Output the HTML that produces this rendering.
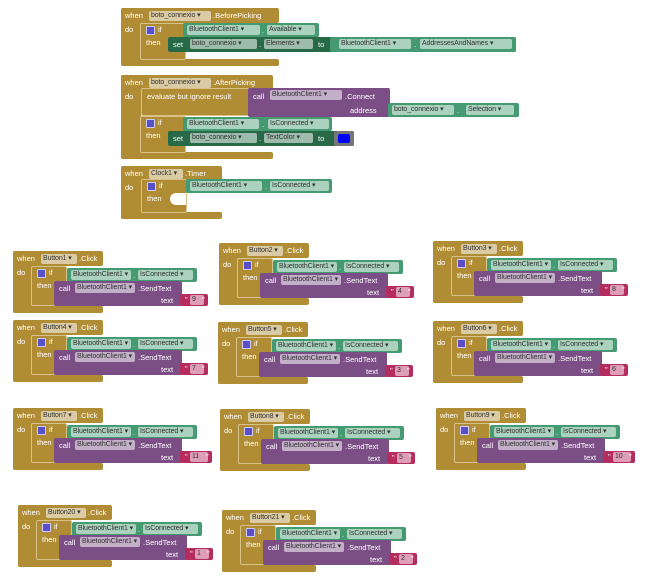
<!DOCTYPE html><html><head><meta charset="utf-8"><style>
body{margin:0;width:657px;height:577px;background:#fff;position:relative;overflow:hidden;font-family:"Liberation Sans",sans-serif;font-size:7.5px}
div{position:absolute;box-sizing:border-box}
.t{color:#fff;white-space:nowrap;line-height:10px}
.c{background:rgba(255,255,255,.55);color:#333;border-radius:2px;height:10px;line-height:10px;padding-left:2px;white-space:nowrap;overflow:hidden;font-size:7px;letter-spacing:-0.1px}
</style></head><body><div id="r"></div>
<script>
var G='#b08d35',GR='#459a72',DG='#286a47',P='#7b4f86',PK='#b52c5e';
var h='';
function b(x,y,w,hh,c,ex){h+='<div style="left:'+x+'px;top:'+y+'px;width:'+w+'px;height:'+hh+'px;background:'+c+';border-radius:2px;'+(ex||'')+'"></div>';}
function t(x,y,s){h+='<div class="t" style="left:'+x+'px;top:'+y+'px">'+s+'</div>';}
function c(x,y,w,s,dd){h+='<div class="c" style="left:'+x+'px;top:'+y+'px;width:'+w+'px">'+s+(dd===false?'':' ▾')+'</div>';}
function gear(x,y){h+='<div style="left:'+x+'px;top:'+y+'px;width:9px;height:9px;background:#5a4fc4;border:1px solid #ccf;border-radius:1px"></div>';}
function ifb(x,y,w,hh){b(x,y,w,hh,G,'border:1px solid #d8c28a');gear(x+6,y+3);t(x+18,y+2,'if');t(x+6,y+15,'then');}
function ev(x,y,w,hh,comp,cw,evn,ew){b(x,y,ew,15,G);b(x,y,20,hh,G);b(x,y+hh-7,ew,7,G);t(x+4,y+3,'when');c(x+28,y+3,cw,comp);t(x+30+cw,y+3,evn);t(x+4,y+17,'do');}
// top block 1
ev(121,8,158,58,'boto_connexio',62,'.BeforePicking',158);
ifb(140,23,46,37);
b(183,23,136,14,GR);c(187,25,73,'BluetoothClient1');t(262,26,'.');c(267,25,48,'Available');
b(168,37,348,15,DG);t(173,40,'set');c(190,39,67,'boto_connexio');t(259,40,'.');c(264,39,49,'Elements');t(318,40,'to');
b(330,37,186,15,GR);c(339,39,72,'BluetoothClient1');t(414,40,'.');c(420,39,92,'AddressesAndNames');
// top block 2
ev(121,75,152,84,'boto_connexio',62,'.AfterPicking',152);
b(141,88,114,28,G,'border:1px solid #d8c28a');t(147,92,'evaluate but ignore result');
b(248,88,142,29,P);t(253,92,'call');c(270,90,72,'BluetoothClient1');t(345,92,'.Connect');t(350,106,'address');
b(388,103,131,14,GR);c(392,105,62,'boto_connexio');t(457,106,'.');c(466,105,48,'Selection');
ifb(140,116,46,37);
b(183,117,149,14,GR);c(187,119,72,'BluetoothClient1');t(262,120,'.');c(268,119,61,'IsConnected');
b(168,131,186,15,DG);t(173,134,'set');c(190,133,67,'boto_connexio');t(259,134,'.');c(264,133,49,'TextColor');t(318,134,'to');
b(334,131,20,15,'#777');b(338,134,12,9,'#0000ff');
// top block 3
ev(121,166,100,53,'Clock1',34,'.Timer',101);
ifb(141,179,46,34);b(170,193,16,12,'#fff','border-radius:6px 0 0 6px');
b(186,179,146,14,GR);c(190,181,72,'BluetoothClient1');t(265,182,'.');c(270,181,59,'IsConnected');
// button blocks
var L=[[13,251,'Button1','9'],[219,243,'Button2','4'],[433,241,'Button3','8'],[13,320,'Button4','7'],[218,322,'Button5','3'],[433,321,'Button6','6'],[13,408,'Button7','11'],[220,409,'Button8','5'],[436,408,'Button9','10'],[18,505,'Button20','1'],[222,510,'Button21','2']];
L.forEach(function(a){var x=a[0],y=a[1],cw=a[2].length>7?40:36,ew=cw+54;
ev(x,y,ew,62,a[2],cw,'.Click',ew);
ifb(x+18,y+15,36,40);
b(x+54,y+17,130,14,GR);c(x+58,y+19,60,'BluetoothClient1');t(x+120,y+20,'.');c(x+125,y+19,55,'IsConnected');
b(x+41,y+30,128,25,P);t(x+46,y+33,'call');c(x+62,y+32,60,'BluetoothClient1');t(x+125,y+33,'.SendText');t(x+148,y+45,'text');
var pw=a[3].length>1?32:28;b(x+167,y+43,pw,12,PK);t(x+172,y+44,'"');c(x+177,y+44,pw-14,a[3],false);t(x+pw+161,y+44,'"');
});
document.getElementById('r').innerHTML=h;
</script></body></html>
